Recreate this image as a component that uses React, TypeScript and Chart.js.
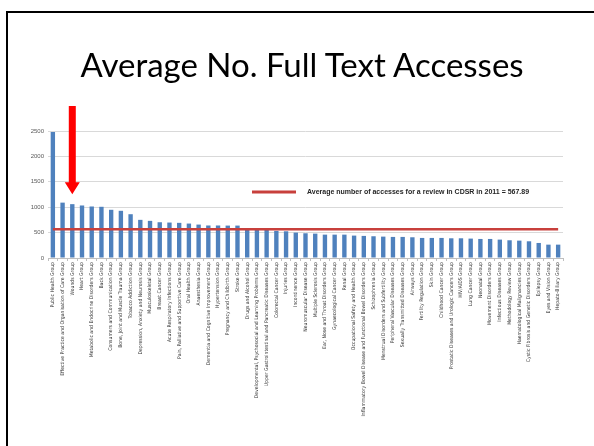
import React, { useEffect, useRef } from "react";
import { Chart, registerables } from "chart.js";

Chart.register(...registerables);

const TITLE = "Average No. Full Text Accesses";

const categories = [
  "Public Health Group",
  "Effective Practice and Organisation of Care Group",
  "Wounds Group",
  "Heart Group",
  "Metabolic and Endocrine Disorders Group",
  "Back Group",
  "Consumers and Communication Group",
  "Bone, Joint and Muscle Trauma Group",
  "Tobacco Addiction Group",
  "Depression, Anxiety and Neurosis Group",
  "Musculoskeletal Group",
  "Breast Cancer Group",
  "Acute Respiratory Infections Group",
  "Pain, Palliative and Supportive Care Group",
  "Oral Health Group",
  "Anaesthesia Group",
  "Dementia and Cognitive Improvement Group",
  "Hypertension Group",
  "Pregnancy and Childbirth Group",
  "Stroke Group",
  "Drugs and Alcohol Group",
  "Developmental, Psychosocial and Learning Problems Group",
  "Upper Gastrointestinal and Pancreatic Diseases Group",
  "Colorectal Cancer Group",
  "Injuries Group",
  "Incontinence Group",
  "Neuromuscular Disease Group",
  "Multiple Sclerosis Group",
  "Ear, Nose and Throat Disorders Group",
  "Gynaecological Cancer Group",
  "Renal Group",
  "Occupational Safety and Health Group",
  "Inflammatory Bowel Disease and Functional Bowel Disorders Group",
  "Schizophrenia Group",
  "Menstrual Disorders and Subfertility Group",
  "Peripheral Vascular Diseases Group",
  "Sexually Transmitted Diseases Group",
  "Airways Group",
  "Fertility Regulation Group",
  "Skin Group",
  "Childhood Cancer Group",
  "Prostatic Diseases and Urologic Cancers Group",
  "HIV/AIDS Group",
  "Lung Cancer Group",
  "Neonatal Group",
  "Movement Disorders Group",
  "Infectious Diseases Group",
  "Methodology Review Group",
  "Haematological Malignancies Group",
  "Cystic Fibrosis and Genetic Disorders Group",
  "Epilepsy Group",
  "Eyes and Vision Group",
  "Hepato-Biliary Group",
];

const accesses = [
  2480, 1090, 1060, 1034, 1014, 1008, 949, 929, 862, 751,
  731, 704, 698, 692, 678, 658, 640, 640, 638, 638,
  579, 559, 553, 534, 526, 500, 487, 480, 460, 460,
  460, 441, 435, 428, 421, 415, 415, 408, 395, 395,
  395, 388, 388, 382, 375, 375, 362, 349, 342, 329,
  296, 263, 263,
];

const AVERAGE = 567.89;
const averageLabel = "Average number of accesses for a review in CDSR in 2011 = 567.89";
const Y_MIN = 0;
const Y_MAX = 2500;
const Y_STEP = 500;
const highlightIndex = 2; // Wounds Group

const BAR_COLOR = "#4F81BD";
const LINE_COLOR = "#C8403C";
const ARROW_COLOR = "#FF0000";
const LABEL_FONT = "'Liberation Sans Narrow', 'DejaVu Sans Condensed', 'Liberation Sans', sans-serif";

export default function App() {
  const ref = useRef<HTMLCanvasElement>(null);

  useEffect(() => {
    if (!ref.current) return;
    const overlay = {
      id: "overlay",
      afterDatasetsDraw(chart: any) {
        const { ctx, chartArea, scales } = chart;
        const xs = scales.x;
        const ys = scales.y;
        ctx.save();
        // legend
        const ly = chartArea.top + 61;
        const lx = chartArea.left + 204;
        ctx.strokeStyle = LINE_COLOR;
        ctx.lineWidth = 3;
        ctx.beginPath();
        ctx.moveTo(lx, ly);
        ctx.lineTo(lx + 44, ly);
        ctx.stroke();
        ctx.fillStyle = "#262626";
        ctx.font = "bold 7px 'Liberation Sans', Arial, sans-serif";
        ctx.textBaseline = "middle";
        ctx.textAlign = "left";
        ctx.fillText(averageLabel, lx + 55, ly);
        // arrow
        const ax = xs.getPixelForValue(highlightIndex);
        const tipY = ys.getPixelForValue(accesses[highlightIndex]) - 10;
        const topY = chartArea.top - 25;
        const headH = 12;
        const shaftW = 7;
        const headW = 15;
        ctx.fillStyle = ARROW_COLOR;
        ctx.beginPath();
        ctx.moveTo(ax - shaftW / 2, topY);
        ctx.lineTo(ax + shaftW / 2, topY);
        ctx.lineTo(ax + shaftW / 2, tipY - headH);
        ctx.lineTo(ax + headW / 2, tipY - headH);
        ctx.lineTo(ax, tipY);
        ctx.lineTo(ax - headW / 2, tipY - headH);
        ctx.lineTo(ax - shaftW / 2, tipY - headH);
        ctx.closePath();
        ctx.fill();
        ctx.restore();
      },
    };

    const chart = new Chart(ref.current, {
      type: "bar",
      data: {
        labels: categories,
        datasets: [
          {
            type: "line",
            label: averageLabel,
            data: categories.map(() => AVERAGE),
            borderColor: LINE_COLOR,
            borderWidth: 2.5,
            pointRadius: 0,
            order: 1,
          } as any,
          {
            type: "bar",
            label: TITLE,
            data: accesses,
            backgroundColor: BAR_COLOR,
            borderWidth: 0,
            categoryPercentage: 1,
            barPercentage: 0.45,
            order: 2,
          },
        ],
      },
      options: {
        responsive: false,
        animation: false,
        devicePixelRatio: 1,
        layout: { padding: { left: 26, right: 31, top: 131, bottom: 0 } },
        plugins: { legend: { display: false }, tooltip: { enabled: false } },
        scales: {
          x: {
            offset: true,
            grid: { display: true, drawOnChartArea: false, drawTicks: true, tickLength: 3, color: "#bfbfbf" },
            border: { display: true, color: "#bfbfbf" },
            ticks: {
              autoSkip: false,
              minRotation: 90,
              maxRotation: 90,
              padding: 1,
              color: "#333333",
              font: { size: 5.1, family: LABEL_FONT },
            },
            afterFit: (s: any) => {
              s.height = 188;
            },
          },
          y: {
            min: Y_MIN,
            max: Y_MAX,
            ticks: {
              stepSize: Y_STEP,
              padding: 4,
              color: "#595959",
              font: { size: 6, family: "'Liberation Sans', Arial, sans-serif" },
              callback: (v: any) => String(v),
            },
            grid: { color: "#d9d9d9", drawTicks: false },
            border: { display: false },
            afterFit: (s: any) => {
              s.width = 22;
            },
          },
        },
      },
      plugins: [overlay],
    });
    return () => chart.destroy();
  }, []);

  return (
    <div style={{ position: "absolute", left: 0, top: 0, width: 594, height: 446, background: "#fff", overflow: "hidden" }}>
      <div
        style={{
          position: "absolute",
          left: 6,
          top: 11,
          width: 700,
          height: 600,
          borderLeft: "2px solid #000",
          borderTop: "2px solid #000",
        }}
      />
      <canvas ref={ref} width={594} height={446} style={{ position: "absolute", left: 0, top: 0 }} />
      <div
        style={{
          position: "absolute",
          left: 0,
          top: 44,
          width: 604,
          textAlign: "center",
          fontFamily: "Lato, 'Open Sans', sans-serif",
          fontSize: 33,
          lineHeight: "40px",
          color: "#000",
        }}
      >
        {TITLE}
      </div>
    </div>
  );
}
